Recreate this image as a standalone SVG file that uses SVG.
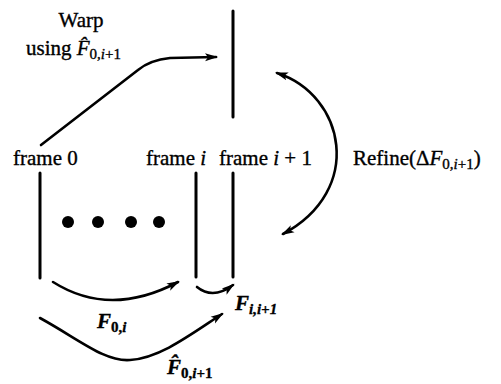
<svg xmlns="http://www.w3.org/2000/svg" width="501" height="384" viewBox="0 0 501 384">
<style>
text { font-family: "Liberation Serif", "Times New Roman", serif; font-size: 21px; fill: #000; stroke: #000; stroke-width: 0.35; }
.it { font-style: italic; }
.sub { font-size: 15px; }
.frame { stroke: #000; stroke-width: 3; fill: none; stroke-linecap: round; }
.conn { stroke: #000; stroke-width: 2.6; fill: none; stroke-linecap: round; }
</style>
<defs>
<marker id="ah" markerUnits="userSpaceOnUse" markerWidth="14" markerHeight="10" refX="11" refY="4" orient="auto-start-reverse" viewBox="0 0 14 8">
<path d="M0,0 L13,4 L0,8 L3,4 z" fill="#000"/>
</marker>
</defs>
<rect width="501" height="384" fill="#fff"/>

<g id="frame-warped">
<line class="frame" x1="233" y1="11" x2="233" y2="117"/>
</g>

<g id="frame0">
<text x="13" y="165">frame 0</text>
<line class="frame" x1="40" y1="173" x2="40" y2="278"/>
</g>

<g id="frame-i">
<text x="146" y="165">frame <tspan class="it">i</tspan></text>
<line class="frame" x1="196" y1="173" x2="196" y2="277"/>
</g>

<g id="frame-i1">
<text x="219" y="165">frame <tspan class="it">i</tspan> + 1</text>
<line class="frame" x1="233" y1="173" x2="233" y2="277"/>
</g>

<g id="dots">
<circle cx="68" cy="222" r="6"/>
<circle cx="98" cy="222" r="6"/>
<circle cx="131" cy="222" r="6"/>
<circle cx="159" cy="222" r="6"/>
</g>

<g id="connectors">
<path class="conn" d="M41,145 L138,70 Q150,60 170,58 L216,57" marker-end="url(#ah)"/>
<path class="conn" d="M277,73 C345,95 365,190 283,234" marker-start="url(#ah)" marker-end="url(#ah)"/>
<path class="conn" d="M53,282 Q110,318 178,282" marker-end="url(#ah)"/>
<path class="conn" d="M197,287 Q213,300 233,285" marker-end="url(#ah)"/>
<path class="conn" d="M40,318 C80,340 105,362 130,360 C160,358 190,335 222,314" marker-end="url(#ah)"/>
</g>

<g id="labels">
<text x="81" y="27" text-anchor="middle">Warp</text>
<text x="26" y="55">using <tspan class="it">F&#x0302;</tspan><tspan class="sub" dy="4">0,<tspan class="it">i</tspan>+1</tspan></text>
<text x="353" y="165">Refine(Δ<tspan class="it">F</tspan><tspan class="sub" dy="4">0,<tspan class="it">i</tspan>+1</tspan><tspan dy="-4">)</tspan></text>
<text x="97" y="328"><tspan class="it" font-weight="bold">F</tspan><tspan class="sub" dy="4" font-weight="bold">0,<tspan class="it">i</tspan></tspan></text>
<text x="235" y="310"><tspan class="it" font-weight="bold">F</tspan><tspan class="sub it" dy="4" font-weight="bold">i,i+1</tspan></text>
<text x="167" y="374"><tspan class="it" font-weight="bold">F&#x0302;</tspan><tspan class="sub" dy="4" font-weight="bold">0,<tspan class="it">i</tspan>+1</tspan></text>
</g>
</svg>
